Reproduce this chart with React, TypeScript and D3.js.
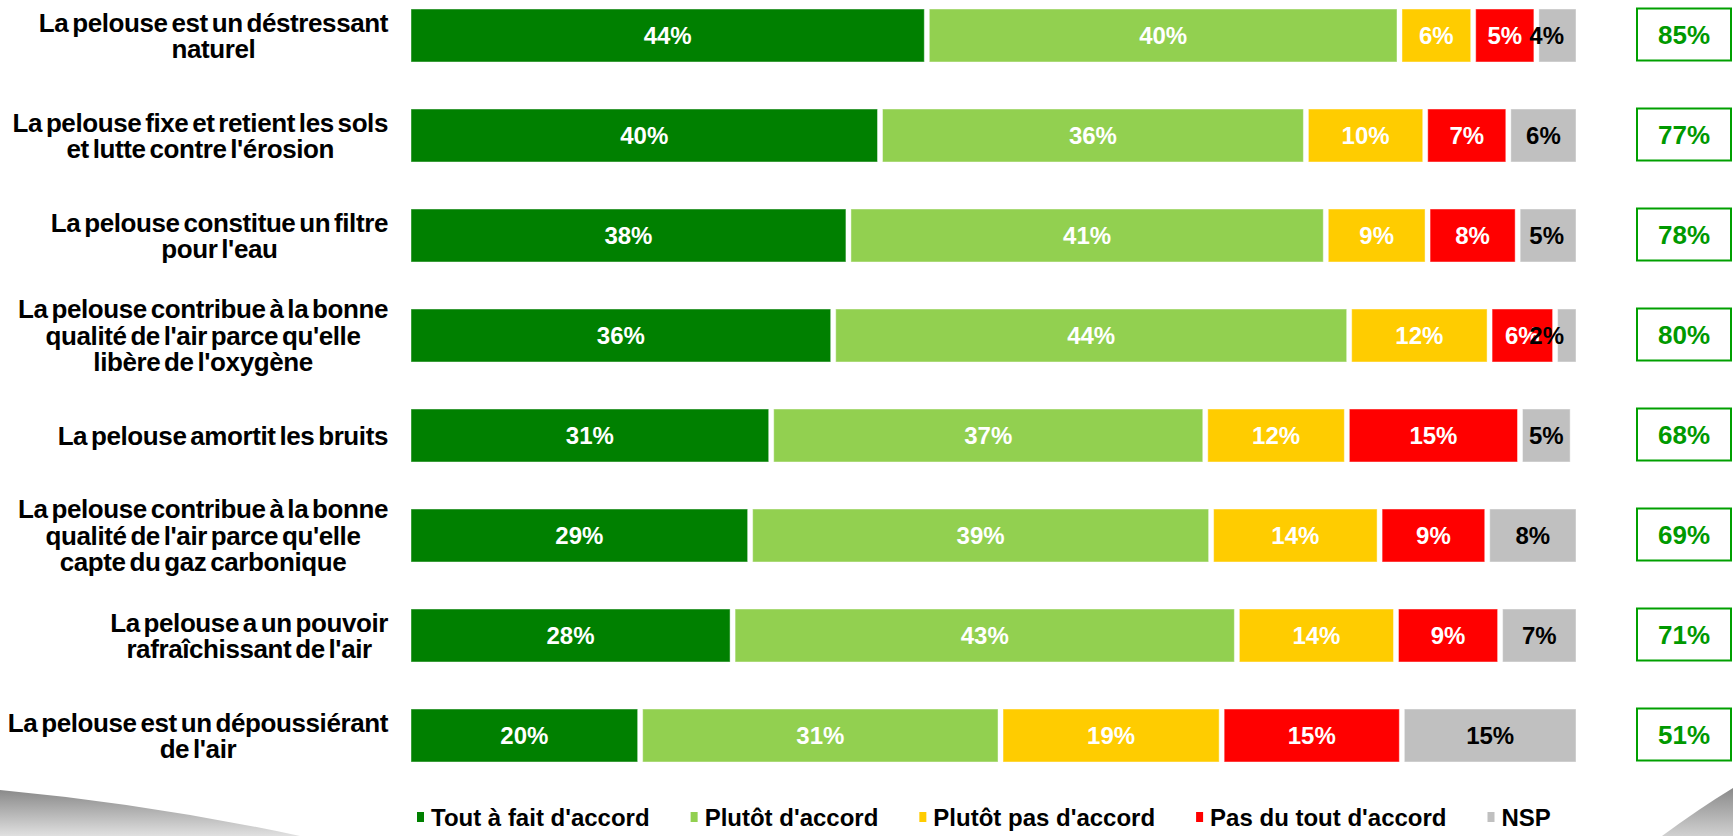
import React, { useEffect, useRef } from 'react';
import * as d3 from 'd3';

const categories = [
  "La pelouse est un déstressant\nnaturel",
  "La pelouse fixe et retient les sols\net lutte contre l'érosion",
  "La pelouse constitue un filtre\npour l'eau",
  "La pelouse contribue à la bonne\nqualité de l'air parce qu'elle\nlibère de l'oxygène",
  "La pelouse amortit les bruits",
  "La pelouse contribue à la bonne\nqualité de l'air parce qu'elle\ncapte du gaz carbonique",
  "La pelouse a un pouvoir\nrafraîchissant de l'air",
  "La pelouse est un dépoussiérant\nde l'air",
];

const seriesNames = ["Tout à fait d'accord", "Plutôt d'accord", "Plutôt pas d'accord", "Pas du tout d'accord", "NSP"];
const toutAFait = [44.3, 40.3, 37.6, 36.3, 31.0, 29.2, 27.7, 19.8];
const plutot = [40.4, 36.4, 40.8, 44.1, 37.1, 39.4, 43.1, 30.8];
const plutotPas = [6.3, 10.2, 8.7, 12.0, 12.1, 14.4, 13.6, 18.9];
const pasDuTout = [5.4, 7.1, 7.7, 5.6, 14.8, 9.2, 8.9, 15.4];
const nsp = [3.6, 6.0, 5.2, 2.0, 4.5, 7.8, 6.7, 15.1];
const totalAccord = [85, 77, 78, 80, 68, 69, 71, 51];

const seriesColors = ['#008000', '#92d050', '#ffcc00', '#ff0000', '#c0c0c0'];
const labelColors = ['#ffffff', '#ffffff', '#ffffff', '#ffffff', '#000000'];

const W = 1733;
const H = 836;
const FONT = "'Liberation Sans', Arial, sans-serif";

export default function App() {
  const ref = useRef<SVGSVGElement | null>(null);

  useEffect(() => {
    const svg = d3.select(ref.current);
    svg.selectAll('*').remove();

    const series = [toutAFait, plutot, plutotPas, pasDuTout, nsp];
    const gap = 5;
    const x = d3.scaleLinear().domain([0, 100]).range([411, 1581]);
    const y = d3.scaleBand<number>()
      .domain(d3.range(categories.length))
      .range([-14.5, 785.5])
      .paddingInner(0.47)
      .paddingOuter(0.235);

    // background decoration
    const defs = svg.append('defs');
    const g1 = defs.append('linearGradient').attr('id', 'gl').attr('x1', '0').attr('y1', '0').attr('x2', '0').attr('y2', '1');
    g1.append('stop').attr('offset', '0').attr('stop-color', '#8a8a8a');
    g1.append('stop').attr('offset', '1').attr('stop-color', '#e0e0e0');
    const g2 = defs.append('linearGradient').attr('id', 'gr').attr('x1', '0').attr('y1', '0').attr('x2', '0').attr('y2', '1');
    g2.append('stop').attr('offset', '0').attr('stop-color', '#8a8a8a');
    g2.append('stop').attr('offset', '1').attr('stop-color', '#d0d0d0');
    svg.append('path').attr('d', `M0,790 Q150,804 300,${H} L0,${H} Z`).attr('fill', 'url(#gl)');
    svg.append('path').attr('d', `M1662,${H} Q1700,808 ${W},788 L${W},${H} Z`).attr('fill', 'url(#gr)');

    // category labels
    const lineH = 26.5;
    categories.forEach((cat, i) => {
      const lines = cat.split('\n');
      const cy = (y(i) as number) + y.bandwidth() / 2;
      const g = svg.append('g');
      const texts = lines.map((ln, k) =>
        g.append('text')
          .attr('y', cy + 9.3 - ((lines.length - 1) * lineH) / 2 + k * lineH)
          .attr('font-family', FONT)
          .attr('font-weight', 'bold')
          .attr('font-size', 26)
          .attr('letter-spacing', -0.4)
          .attr('word-spacing', -3)
          .attr('fill', '#000')
          .attr('text-anchor', 'middle')
          .text(ln)
      );
      let maxW = 0;
      texts.forEach((t) => {
        const n = t.node() as SVGTextElement;
        maxW = Math.max(maxW, n.getComputedTextLength());
      });
      texts.forEach((t) => t.attr('x', 388 - maxW / 2));
    });

    // bars
    categories.forEach((_, i) => {
      const top = y(i) as number;
      const cy = top + y.bandwidth() / 2;
      let cum = 0;
      series.forEach((s, si) => {
        const v = s[i];
        const x0 = x(cum);
        const x1 = x(cum + v) - gap;
        cum += v;
        svg.append('rect')
          .attr('x', x0).attr('y', top)
          .attr('width', Math.max(0, x1 - x0)).attr('height', y.bandwidth())
          .attr('fill', seriesColors[si])
          .attr('stroke', 'rgba(255,255,255,0.45)')
          .attr('stroke-width', 1);
        const t = svg.append('text')
          .attr('y', cy + 8.6)
          .attr('font-family', FONT)
          .attr('font-weight', 'bold')
          .attr('font-size', 24)
          .attr('fill', labelColors[si])
          .attr('text-anchor', 'middle')
          .text(d3.format('.0f')(v) + '%');
        const tw = (t.node() as SVGTextElement).getComputedTextLength();
        const cx = Math.min((x0 + x1) / 2, 1564 - tw / 2);
        t.attr('x', cx);
      });

      // total box
      svg.append('rect')
        .attr('x', 1637).attr('y', cy - 27)
        .attr('width', 94).attr('height', 52)
        .attr('fill', '#fff')
        .attr('stroke', '#00a000')
        .attr('stroke-width', 2);
      svg.append('text')
        .attr('x', 1684).attr('y', cy + 8.5)
        .attr('font-family', FONT)
        .attr('font-weight', 'bold')
        .attr('font-size', 26)
        .attr('fill', '#009900')
        .attr('text-anchor', 'middle')
        .text(totalAccord[i] + '%');
    });

    // legend
    let lx = 417;
    const ly = 817;
    seriesNames.forEach((name, si) => {
      svg.append('rect')
        .attr('x', lx).attr('y', ly - 5)
        .attr('width', 7).attr('height', 10)
        .attr('fill', seriesColors[si]);
      const t = svg.append('text')
        .attr('x', lx + 14).attr('y', ly + 9)
        .attr('font-family', FONT)
        .attr('font-weight', 'bold')
        .attr('font-size', 24)
        .attr('fill', '#000')
        .text(name);
      const tw = (t.node() as SVGTextElement).getComputedTextLength();
      lx = lx + 14 + tw + 41;
    });
  }, []);

  return (
    <svg
      ref={ref}
      width={W}
      height={H}
      style={{ position: 'absolute', left: 0, top: 0, display: 'block', background: '#fff' }}
    />
  );
}
